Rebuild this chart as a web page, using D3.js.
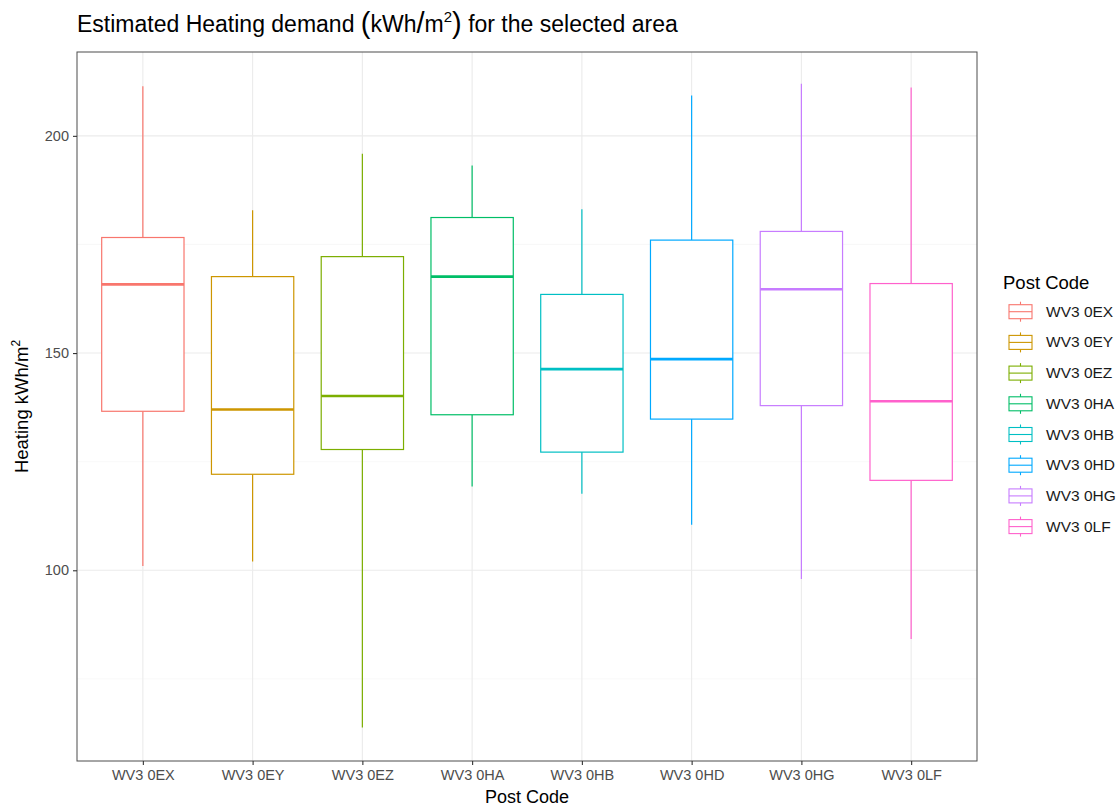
<!DOCTYPE html>
<html lang="en">
<head>
    <meta charset="UTF-8">
    <title>Estimated Heating demand</title>
    <style>
        body { margin: 0; background: #fff; font-family: "Liberation Sans", Arial, sans-serif; }
        .grid-major line { stroke: #ebebeb; stroke-width: 1.1; }
        .grid-minor line { stroke: #f3f3f3; stroke-width: 0.6; }
        .tick text { fill: #4d4d4d; font-size: 14.5px; }
    </style>
</head>
<body>
    <script src="https://d3js.org/d3.v7.min.js"></script>
    <script>
        // data
        const postcodes = ["WV3 0EX", "WV3 0EY", "WV3 0EZ", "WV3 0HA", "WV3 0HB", "WV3 0HD", "WV3 0HG", "WV3 0LF"];
        const lowerWhisker = [101.0, 102.0, 63.8, 119.3, 117.6, 110.5, 98.0, 84.2];
        const q1 = [136.6, 122.1, 127.8, 135.8, 127.2, 134.8, 137.9, 120.7];
        const median = [165.8, 137.0, 140.1, 167.6, 146.3, 148.6, 164.7, 138.9];
        const q3 = [176.6, 167.6, 172.2, 181.2, 163.5, 176.0, 178.0, 166.0];
        const upperWhisker = [211.4, 182.9, 195.9, 193.2, 183.1, 209.3, 212.0, 211.1];
        const colors = ["#F8766D", "#CD9600", "#7CAE00", "#00BE67", "#00BFC4", "#00A9FF", "#C77CFF", "#FF61CC"];
        const yTicks = [100, 150, 200];
        const yMinor = [75, 125, 175];

        const width = 1120, height = 809;
        const margin = { top: 52, right: 143, bottom: 48, left: 77 };
        const pw = width - margin.left - margin.right;
        const ph = height - margin.top - margin.bottom;

        const rows = postcodes.map((p, i) => ({
            code: p, lo: lowerWhisker[i], q1: q1[i], med: median[i], q3: q3[i], hi: upperWhisker[i], color: colors[i]
        }));

        const svg = d3.select("body").append("svg")
            .attr("width", width)
            .attr("height", height);

        // discrete axis with ggplot-like 0.6 expansion
        const x = d3.scalePoint()
            .domain(postcodes)
            .range([0, pw])
            .padding(0.6);
        const step = x.step();
        const boxW = step * 0.75;

        const y = d3.scaleLinear()
            .domain([56.1, 219.3])
            .range([ph, 0]);

        const g = svg.append("g").attr("transform", `translate(${margin.left},${margin.top})`);

        g.append("g").attr("class", "grid-minor")
            .selectAll("line").data(yMinor).join("line")
            .attr("x1", 0).attr("x2", pw)
            .attr("y1", d => y(d)).attr("y2", d => y(d));

        g.append("g").attr("class", "grid-major")
            .selectAll("line").data(yTicks).join("line")
            .attr("x1", 0).attr("x2", pw)
            .attr("y1", d => y(d)).attr("y2", d => y(d));

        g.append("g").attr("class", "grid-major")
            .selectAll("line").data(postcodes).join("line")
            .attr("x1", d => x(d)).attr("x2", d => x(d))
            .attr("y1", 0).attr("y2", ph);

        const boxes = g.selectAll(".box").data(rows).join("g")
            .attr("class", "box")
            .attr("transform", d => `translate(${x(d.code)},0)`);

        boxes.append("line")
            .attr("x1", 0).attr("x2", 0)
            .attr("y1", d => y(d.hi)).attr("y2", d => y(d.q3))
            .attr("stroke", d => d.color).attr("stroke-width", 1.2);
        boxes.append("line")
            .attr("x1", 0).attr("x2", 0)
            .attr("y1", d => y(d.q1)).attr("y2", d => y(d.lo))
            .attr("stroke", d => d.color).attr("stroke-width", 1.2);
        boxes.append("rect")
            .attr("x", -boxW / 2).attr("width", boxW)
            .attr("y", d => y(d.q3)).attr("height", d => y(d.q1) - y(d.q3))
            .attr("fill", "white")
            .attr("stroke", d => d.color).attr("stroke-width", 1.2);
        boxes.append("line")
            .attr("x1", -boxW / 2).attr("x2", boxW / 2)
            .attr("y1", d => y(d.med)).attr("y2", d => y(d.med))
            .attr("stroke", d => d.color).attr("stroke-width", 2.6);

        // panel border
        g.append("rect")
            .attr("width", pw).attr("height", ph)
            .attr("fill", "none").attr("stroke", "#4d4d4d").attr("stroke-width", 1);

        const xAxis = g.append("g")
            .attr("transform", `translate(0,${ph})`)
            .call(d3.axisBottom(x).tickSize(4).tickPadding(5));
        xAxis.select(".domain").remove();
        xAxis.selectAll(".tick line").attr("stroke", "#333").attr("stroke-width", 1.1);

        const yAxis = g.append("g")
            .call(d3.axisLeft(y).tickValues(yTicks).tickSize(4).tickPadding(4));
        yAxis.select(".domain").remove();
        yAxis.selectAll(".tick line").attr("stroke", "#333").attr("stroke-width", 1.1);

        // title (math-style parentheses)
        const title = svg.append("text")
            .attr("x", 77).attr("y", 32)
            .attr("font-size", 23).attr("fill", "#000");
        title.append("tspan").text("Estimated Heating demand ");
        title.append("tspan").attr("font-size", 29).attr("dy", 1).text("(");
        title.append("tspan").attr("dy", -1).text("kWh");
        title.append("tspan").attr("font-size", 29).attr("dy", 1).text("/");
        title.append("tspan").attr("dy", -1).text("m");
        title.append("tspan").attr("font-size", 15).attr("dy", -10).text("2");
        title.append("tspan").attr("font-size", 29).attr("dy", 11).text(")");
        title.append("tspan").attr("dy", -1).text(" for the selected area");

        // axis titles
        svg.append("text")
            .attr("x", margin.left + pw / 2).attr("y", 803)
            .attr("text-anchor", "middle").attr("font-size", 18)
            .text("Post Code");

        const yt = svg.append("text")
            .attr("transform", `translate(28,${margin.top + ph / 2}) rotate(-90)`)
            .attr("text-anchor", "middle").attr("font-size", 18.5);
        yt.append("tspan").text("Heating kWh/m");
        yt.append("tspan").attr("font-size", 12).attr("dy", -8).text("2");

        // legend
        const lg = svg.append("g").attr("transform", "translate(1003,0)");
        lg.append("text").attr("x", 0).attr("y", 289).attr("font-size", 18.5).text("Post Code");
        const items = lg.selectAll(".item").data(rows).join("g")
            .attr("class", "item")
            .attr("transform", (d, i) => `translate(0,${311.7 + i * 30.7})`);
        items.append("line")
            .attr("x1", 17.5).attr("x2", 17.5).attr("y1", -10).attr("y2", 10)
            .attr("stroke", d => d.color).attr("stroke-width", 1.1);
        items.append("rect")
            .attr("x", 6).attr("y", -7).attr("width", 23).attr("height", 14)
            .attr("fill", "white").attr("stroke", d => d.color).attr("stroke-width", 1.1);
        items.append("line")
            .attr("x1", 6).attr("x2", 29).attr("y1", 0).attr("y2", 0)
            .attr("stroke", d => d.color).attr("stroke-width", 1.1);
        items.append("text")
            .attr("x", 43).attr("y", 5)
            .attr("font-size", 15.5).attr("fill", "#1a1a1a")
            .text(d => d.code);
    </script>
</body>
</html>
